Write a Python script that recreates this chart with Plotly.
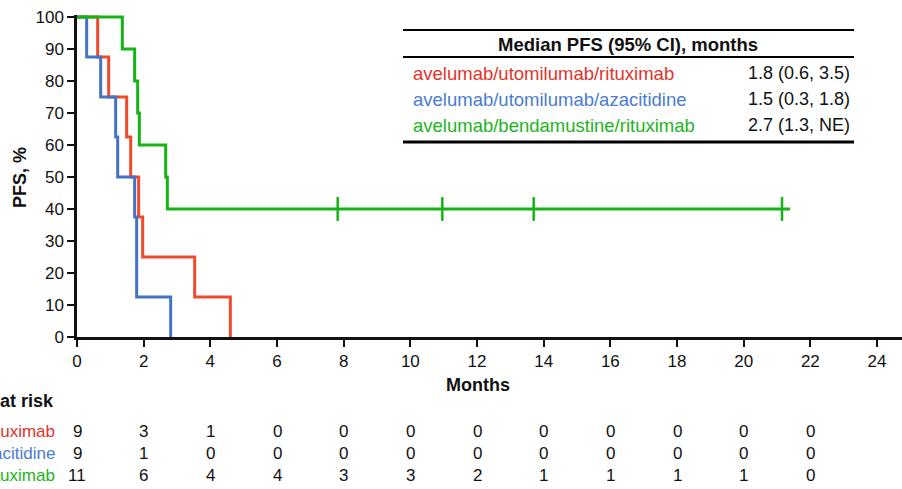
import plotly.graph_objects as go

# ---------------- data ----------------
series_names = ["avelumab/utomilumab/rituximab",
                "avelumab/utomilumab/azacitidine",
                "avelumab/bendamustine/rituximab"]

red_t = [0, 0.62, 0.95, 1.49, 1.61, 1.85, 1.97, 3.53, 4.60]
red_s = [100, 87.5, 75, 62.5, 50, 37.5, 25, 12.5, 0]

blue_t = [0, 0.29, 0.71, 1.16, 1.22, 1.73, 1.79, 2.81]
blue_s = [100, 87.5, 75, 62.5, 50, 37.5, 12.5, 0]

green_t = [0, 1.36, 1.73, 1.82, 1.87, 2.66, 2.71, 21.39]
green_s = [100, 90, 80, 70, 60, 50, 40, 40]
green_cens_t = [7.82, 10.96, 13.70, 21.15]
green_cens_s = [40, 40, 40, 40]

median_text = ["1.8 (0.6, 3.5)", "1.5 (0.3, 1.8)", "2.7 (1.3, NE)"]

risk_times = [0, 2, 4, 6, 8, 10, 12, 14, 16, 18, 20, 22]
risk_red = [9, 3, 1, 0, 0, 0, 0, 0, 0, 0, 0, 0]
risk_blue = [9, 1, 0, 0, 0, 0, 0, 0, 0, 0, 0, 0]
risk_green = [11, 6, 4, 4, 3, 3, 2, 1, 1, 1, 1, 0]

x_ticks = list(range(0, 25, 2))
y_ticks = list(range(0, 101, 10))

# ---------------- style ----------------
RED = "#EE4A2B"
BLUE = "#4472C4"
GREEN = "#14B414"
RED_T = "#E2342B"
BLUE_T = "#4A7CCF"
GREEN_T = "#1DB51D"
FONT = "Liberation Sans, Arial, sans-serif"

W, H = 902, 489
L, R, T, B = 77, 0, 15, 152
PW, PH = W - L - R, H - T - B


def px(xp):
    return (xp - L) / PW


def py(yp):
    return (H - B - yp) / PH


def note(x, y, text, size, color="#111", xanchor="center", xref="paper", **kw):
    return dict(x=x, y=y, xref=xref, yref="paper", text=text, xanchor=xanchor, yanchor="middle",
                showarrow=False, font=dict(size=size, color=color, family=FONT), **kw)


fig = go.Figure()
for t, s, c in [(red_t, red_s, RED), (blue_t, blue_s, BLUE), (green_t, green_s, GREEN)]:
    fig.add_trace(go.Scatter(x=t, y=s, mode="lines", line=dict(color=c, width=3, shape="hv"),
                             cliponaxis=False, showlegend=False, hoverinfo="skip"))
fig.add_trace(go.Scatter(x=green_cens_t, y=green_cens_s, mode="markers",
                         marker=dict(symbol="line-ns", size=17, line=dict(color=GREEN, width=2.5)),
                         cliponaxis=False, showlegend=False, hoverinfo="skip"))

ann = []
# axis titles
ann.append(note(px(478), py(385), "<b>Months</b>", 18))
ann.append(note(px(20), py(178), "<b>PFS, %</b>", 18, textangle=-90))

# median table
ann.append(note(px(628), py(45), "<b>Median PFS (95% CI), months</b>", 18.5))
row_y = [73, 99, 125]
for name, med, col, yy in zip(series_names, median_text, [RED_T, BLUE_T, GREEN_T], row_y):
    ann.append(note(px(411), py(yy), name, 18.5, color=col, xanchor="left"))
    ann.append(note(px(852), py(yy), med, 18, xanchor="right"))

shapes = [
    dict(type="line", xref="paper", yref="paper", x0=px(403), x1=px(854), y0=py(30), y1=py(30),
         line=dict(color="black", width=2)),
    dict(type="line", xref="paper", yref="paper", x0=px(403), x1=px(854), y0=py(57), y1=py(57),
         line=dict(color="black", width=2)),
    dict(type="line", xref="paper", yref="paper", x0=px(403), x1=px(854), y0=py(142), y1=py(142),
         line=dict(color="black", width=3)),
]

# number at risk
ann.append(note(px(56), py(401), "<b>Number at risk</b>", 18, xanchor="right"))
risk_rows = [(series_names[0], risk_red, RED_T, 431.5),
             (series_names[1], risk_blue, BLUE_T, 453.5),
             (series_names[2], risk_green, GREEN_T, 475.5)]
for name, vals, col, yy in risk_rows:
    ann.append(note(px(57), py(yy), name, 17, color=col, xanchor="right"))
    for t, v in zip(risk_times, vals):
        ann.append(note(t, py(yy), str(v), 17, xref="x"))

fig.update_layout(
    width=W, height=H, margin=dict(l=L, r=R, t=T, b=B, pad=0),
    paper_bgcolor="white", plot_bgcolor="white",
    font=dict(family=FONT, size=17, color="#111"),
    annotations=ann, shapes=shapes, showlegend=False,
    xaxis=dict(range=[0, PW / (800 / 24)], tickvals=x_ticks, ticktext=[str(v) for v in x_ticks],
               showgrid=False, zeroline=False, showline=True, linecolor="#111", linewidth=2.5,
               ticks="outside", ticklen=7, tickwidth=2, tickcolor="#111",
               tickfont=dict(size=17, color="#111", family=FONT)),
    yaxis=dict(range=[0, 100 * PH / 320], tickvals=y_ticks, ticktext=[str(v) for v in y_ticks],
               showgrid=False, zeroline=False, showline=True, linecolor="#111", linewidth=2.5,
               ticks="outside", ticklen=7, tickwidth=2, tickcolor="#111",
               tickfont=dict(size=17, color="#111", family=FONT)),
)

fig.write_html("out.html", config={"displayModeBar": False},
               post_script="document.body.style.margin='0';document.body.style.overflow='hidden';")
